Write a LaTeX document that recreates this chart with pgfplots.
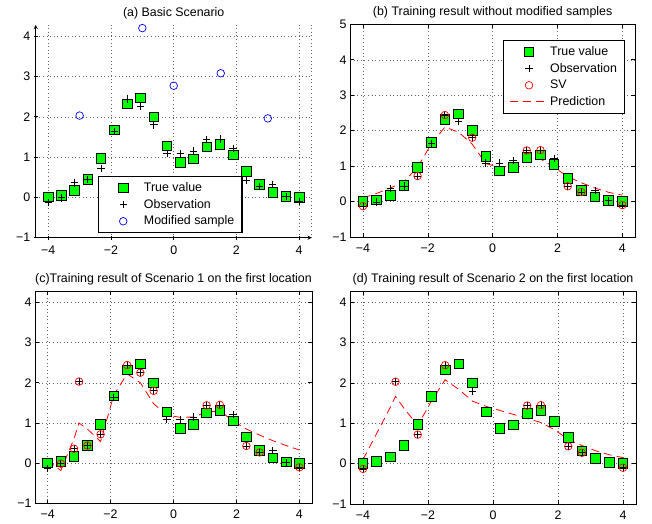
\documentclass[border=0pt]{standalone}
\usepackage{fontspec}
\setmainfont{Liberation Sans}
\usepackage{pgfplots}
\pgfplotsset{compat=1.18}
\usepackage{pgfplotstable}

\definecolor{mgreen}{RGB}{0,255,0}
\newcommand{\fs}{\fontsize{12.4}{14}\selectfont}

\pgfplotstableread{
x y
-4 0.01
-3.5789 0.05
-3.1579 0.17
-2.7368 0.45
-2.3158 0.97
-1.8947 1.67
-1.4737 2.32
-1.0526 2.47
-0.6316 2.00
-0.2105 1.28
0.2105 0.87
0.6316 0.96
1.0526 1.25
1.4737 1.32
1.8947 1.05
2.3158 0.65
2.7368 0.32
3.1579 0.13
3.5789 0.03
4 0.00
}\truetab

\pgfplotstableread{
x y
-4 -0.13
-3.5789 -0.01
-3.1579 0.36
-2.7368 0.44
-2.3158 0.72
-1.8947 1.64
-1.4737 2.44
-1.0526 2.25
-0.6316 1.80
-0.2105 1.09
0.2105 1.09
0.6316 1.15
1.0526 1.44
1.4737 1.45
1.8947 1.21
2.3158 0.43
2.7368 0.27
3.1579 0.32
3.5789 0.02
4 -0.10
}\obstab

\pgfplotstableread{
x y
-3 2.03
-1 4.20
0 2.77
1.5 3.08
3 1.96
}\modtab

\pgfplotstableread{
x y
-4 -0.13
-2.3158 0.72
-1.4737 2.44
-0.6316 1.80
1.0526 1.44
1.4737 1.45
2.3158 0.43
2.7368 0.27
4 -0.10
}\svbtab

\pgfplotstableread{
x y
-4 0.10
-3.5789 0.23
-3.1579 0.38
-2.7368 0.56
-2.3158 0.97
-1.8947 1.62
-1.4737 2.10
-1.0526 1.96
-0.6316 1.62
-0.2105 1.07
0.2105 0.97
0.6316 1.02
1.0526 1.18
1.4737 1.20
1.8947 0.97
2.3158 0.70
2.7368 0.53
3.1579 0.38
3.5789 0.26
4 0.18
}\predbtab

\pgfplotstableread{
x y
-3 2.03
}\obsextra

\pgfplotstableread{
x y
-3.5789 -0.01
-3.1579 0.36
-3 2.03
-2.7368 0.44
-2.3158 0.72
-1.4737 2.44
-1.0526 2.25
-0.6316 1.80
1.0526 1.44
1.4737 1.45
2.3158 0.43
2.7368 0.27
4 -0.10
}\svctab

\pgfplotstableread{
x y
-4 0.07
-3.5789 -0.18
-3.1579 0.62
-3 1.00
-2.7368 0.85
-2.3158 0.54
-1.8947 1.70
-1.4737 2.22
-1.0526 2.00
-0.6316 1.48
-0.2105 1.20
0.2105 1.14
0.6316 1.15
1.0526 1.27
1.4737 1.30
1.8947 1.05
2.3158 0.85
2.7368 0.70
3.1579 0.56
3.5789 0.44
4 0.33
}\predctab

\pgfplotstableread{
x y
-4 -0.13
-3 2.03
-2.3158 0.72
-1.4737 2.44
-0.6316 1.80
1.0526 1.44
1.4737 1.45
2.3158 0.43
2.7368 0.27
4 -0.10
}\obsdtab

\pgfplotstableread{
x y
-4 -0.13
-3 2.03
-2.3158 0.72
-1.4737 2.44
1.0526 1.44
1.4737 1.45
2.3158 0.43
2.7368 0.27
4 -0.10
}\svdtab

\pgfplotstableread{
x y
-4 0.10
-3.5789 0.75
-3.1579 1.40
-3 1.67
-2.7368 1.37
-2.3158 0.95
-1.8947 1.55
-1.4737 2.08
-1.0526 1.84
-0.6316 1.55
-0.2105 1.42
0.2105 1.32
0.6316 1.22
1.0526 1.12
1.4737 1.02
1.8947 0.84
2.3158 0.60
2.7368 0.45
3.1579 0.32
3.5789 0.22
4 0.15
}\preddtab

\pgfplotsset{
  mstyle/.style={
    scale only axis,
    xmin=-4.4, xmax=4.4,
    xtick={-4,-2,0,2,4},
    xticklabels={−4,−2,0,2,4},
    grid=major,
    major grid style={line width=0.5pt, dash pattern=on 0.6pt off 3pt, black!60},
    tick align=inside,
    major tick length=4pt,
    tick style={black, line width=0.6pt},
    axis line style={-, line width=0.9pt},
    tick label style={font=\fs},
    xticklabel style={yshift=-3pt},
    title style={font=\fs, yshift=-3.5pt},
    legend cell align=left,
    legend style={draw=black, line width=1.1pt, fill=white, font=\fs,
      inner xsep=6pt, inner ysep=4.5pt, row sep=2.7pt, nodes={inner sep=1.75pt}},
    legend image code/.code={%
      \path[draw=none, fill=none] (0pt,-1pt) rectangle (38pt,1pt);
      \draw[mark repeat=2,mark phase=2,##1] plot coordinates {(0pt,0pt) (19pt,0pt) (38pt,0pt)};},
  },
  truev/.style={only marks, black, mark=square*, mark size=4.8pt, mark options={fill=mgreen, draw=black, line width=0.8pt, solid}},
  obsv/.style={only marks, black, mark=+, mark size=3.7pt, mark options={draw=black, line width=0.8pt, solid}},
  modv/.style={only marks, blue, mark=o, mark size=3.8pt, mark options={draw=blue, line width=0.7pt, solid}},
  svv/.style={only marks, red, mark=o, mark size=3.8pt, mark options={draw=red, line width=0.7pt, solid}},
  predv/.style={draw=red, red, no marks, line width=0.8pt, dash pattern=on 8pt off 5pt},
}

\begin{document}
\begin{tikzpicture}
\useasboundingbox (0,0) rectangle (652pt,523pt);

% (a)
\begin{axis}[mstyle,
  at={(35.7pt,285.3pt)}, anchor=south west,
  width=276pt, height=212.8pt,
  ymin=-1, ymax=4.28,
  ytick={-1,0,1,2,3,4}, yticklabels={−1,0,1,2,3,4},
  axis x line=bottom, axis y line=left,
  extra x ticks={4.4}, extra x tick labels={},
  extra x tick style={grid=major, major tick length=0pt},
  title={(a) Basic Scenario},
  legend style={at={(0.2246,0.0207)}, anchor=south west},
]
\addplot[truev] table {\truetab};
\addplot[obsv] table {\obstab};
\addplot[modv] table {\modtab};
\legend{True value, Observation, Modified sample}
\end{axis}

% (b)
\begin{axis}[mstyle,
  at={(350pt,286pt)}, anchor=south west,
  width=285.3pt, height=212.7pt,
  ymin=-1, ymax=5,
  ytick={-1,0,1,2,3,4,5}, yticklabels={−1,0,1,2,3,4,5},
  title={(b) Training result without modified samples},
  legend style={at={(1,1)}, anchor=north east, xshift=-10pt, yshift=-15.7pt},
]
\addplot[truev] table {\truetab};
\addplot[obsv] table {\obstab};
\addplot[svv] table {\svbtab};
\addplot[predv] table {\predbtab};
\legend{True value, Observation, SV, Prediction}
\end{axis}

% (c)
\begin{axis}[mstyle,
  at={(35pt,19.5pt)}, anchor=south west,
  width=277pt, height=212.5pt,
  ymin=-1, ymax=4.28,
  ytick={-1,0,1,2,3,4}, yticklabels={−1,0,1,2,3,4},
  title={(c)Training result of Scenario 1 on the first location},
]
\addplot[truev] table {\truetab};
\addplot[obsv] table {\obstab};
\addplot[obsv] table {\obsextra};
\addplot[svv] table {\svctab};
\addplot[predv] table {\predctab};
\end{axis}

% (d)
\begin{axis}[mstyle,
  at={(350pt,19pt)}, anchor=south west,
  width=286pt, height=213pt,
  ymin=-1, ymax=4.28,
  ytick={-1,0,1,2,3,4}, yticklabels={−1,0,1,2,3,4},
  title={(d) Training result of Scenario 2 on the first location},
]
\addplot[truev] table {\truetab};
\addplot[obsv] table {\obsdtab};
\addplot[svv] table {\svdtab};
\addplot[predv] table {\preddtab};
\end{axis}
\end{tikzpicture}
\end{document}
